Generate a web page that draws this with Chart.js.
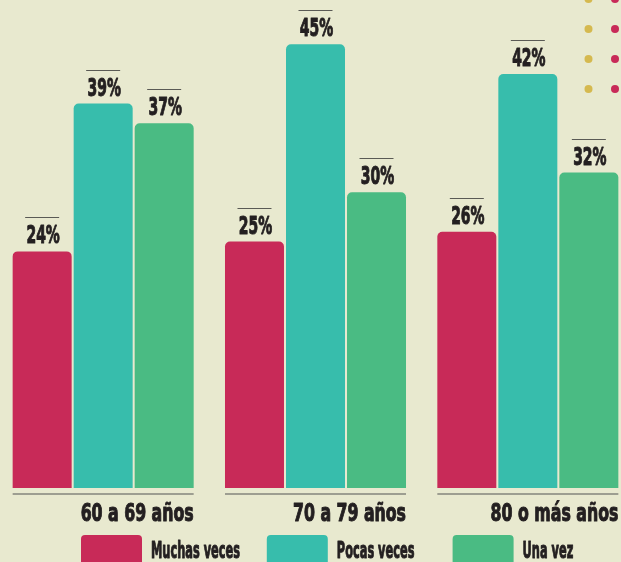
<!DOCTYPE html>
<html lang="es">
<head>
<meta charset="utf-8">
<title>Frecuencia por edad</title>
<script src="https://cdn.jsdelivr.net/npm/chart.js@4"></script>
<style>
  html, body { margin: 0; padding: 0; background: #e8e9cf; overflow: hidden; }
  #wrap { position: relative; width: 621px; height: 562px; overflow: hidden; }
  #box { position: absolute; left: -3px; top: 0; width: 637px; height: 562px; }
</style>
</head>
<body>
<div id="wrap"><div id="box"><canvas id="barChart"></canvas></div></div>
<script>
'use strict';

/* ─────────────────────────────────────────────
   DATA
   ───────────────────────────────────────────── */
const categories = ['60 a 69 años', '70 a 79 años', '80 o más años'];
const seriesLabels = ['Muchas veces', 'Pocas veces', 'Una vez'];
const muchasVeces = [24, 25, 26];
const pocasVeces = [39, 45, 42];
const unaVez = [37, 30, 32];

/* ─────────────────────────────────────────────
   THEME
   ───────────────────────────────────────────── */
const PALETTE = {
    red: '#c82a58',
    teal: '#37bdac',
    green: '#4abb83',
    dotYellow: '#d5b94f',
    text: '#231f20',
    rule: '#5a5a55',
    base: '#85857c',
};
const FONT = "'DejaVu Sans Condensed', 'Liberation Sans Narrow', sans-serif";
const SHIFT = 3; // canvas starts 3px left of the page

// draw text squeezed horizontally (the original uses a very condensed face)
function squeezedText(ctx, text, x, y, align, sx) {
    const w = ctx.measureText(text).width * sx;
    let left = x;
    if (align === 'center') left = x - w / 2;
    else if (align === 'right') left = x - w;
    ctx.save();
    ctx.translate(left, y);
    ctx.scale(sx, 1);
    ctx.textAlign = 'left';
    ctx.strokeStyle = ctx.fillStyle;
    ctx.lineWidth = 1;
    ctx.lineJoin = 'round';
    ctx.strokeText(text, 0, 0);
    ctx.fillText(text, 0, 0);
    ctx.restore();
}

/* ─────────────────────────────────────────────
   DECORATION PLUGIN – labels, rules, legend
   ───────────────────────────────────────────── */
const decorPlugin = {
    id: 'decor',
    afterDatasetsDraw(chart) {
        const ctx = chart.ctx;
        const metas = chart.data.datasets.map((_, i) => chart.getDatasetMeta(i));
        ctx.save();
        ctx.fillStyle = PALETTE.text;
        ctx.textBaseline = 'alphabetic';

        // value labels with a short rule above
        metas.forEach((meta, di) => {
            meta.data.forEach((bar, i) => {
                const v = chart.data.datasets[di].data[i];
                ctx.strokeStyle = PALETTE.rule;
                ctx.lineWidth = 1;
                ctx.beginPath();
                ctx.moveTo(bar.x - 17, Math.round(bar.y - 34) + 0.5);
                ctx.lineTo(bar.x + 17, Math.round(bar.y - 34) + 0.5);
                ctx.stroke();
                ctx.fillStyle = PALETTE.text;
                ctx.font = `bold 25px ${FONT}`;
                squeezedText(ctx, v + '%', bar.x + 1, bar.y - 8, 'center', 0.62);
            });
        });

        // group base lines + category names
        const first = metas[0].data, last = metas[metas.length - 1].data;
        categories.forEach((cat, i) => {
            const x0 = first[i].x - first[i].width / 2;
            const x1 = last[i].x + last[i].width / 2;
            ctx.strokeStyle = PALETTE.base;
            ctx.lineWidth = 1.5;
            ctx.beginPath();
            ctx.moveTo(x0, 494);
            ctx.lineTo(x1, 494);
            ctx.stroke();
            ctx.fillStyle = PALETTE.text;
            ctx.font = `bold 24px ${FONT}`;
            squeezedText(ctx, cat, x1, 521, 'right', 0.73);
        });

        // legend
        chart.data.datasets.forEach((ds, i) => {
            const bx = 81 + SHIFT + i * 185.8;
            ctx.fillStyle = ds.backgroundColor;
            ctx.beginPath();
            ctx.roundRect(bx, 535, 61, 34, 4);
            ctx.fill();
            ctx.fillStyle = PALETTE.text;
            ctx.font = `bold 23px ${FONT}`;
            squeezedText(ctx, ds.label, bx + 70, 558, 'left', 0.55);
        });

        // decorative dots top right
        [-1, 29, 59, 89].forEach(y => {
            ctx.fillStyle = PALETTE.dotYellow;
            ctx.beginPath();
            ctx.arc(588.5 + SHIFT, y, 4, 0, Math.PI * 2);
            ctx.fill();
            ctx.fillStyle = PALETTE.red;
            ctx.beginPath();
            ctx.arc(615 + SHIFT, y, 4, 0, Math.PI * 2);
            ctx.fill();
        });
        ctx.restore();
    },
};

/* ─────────────────────────────────────────────
   CHART
   ───────────────────────────────────────────── */
function makeDataset(label, data, color) {
    return {
        label,
        data,
        backgroundColor: color,
        borderWidth: 0,
        borderRadius: { topLeft: 5, topRight: 5, bottomLeft: 0, bottomRight: 0 },
        borderSkipped: false,
        categoryPercentage: 0.862,
        barPercentage: 0.967,
    };
}

const ctx = document.getElementById('barChart').getContext('2d');
new Chart(ctx, {
    type: 'bar',
    data: {
        labels: categories,
        datasets: [
            makeDataset(seriesLabels[0], muchasVeces, PALETTE.red),
            makeDataset(seriesLabels[1], pocasVeces, PALETTE.teal),
            makeDataset(seriesLabels[2], unaVez, PALETTE.green),
        ],
    },
    options: {
        responsive: true,
        maintainAspectRatio: false,
        animation: false,
        layout: { padding: { top: 0, bottom: 74, left: 0, right: 0 } },
        plugins: {
            legend: { display: false },
            tooltip: { enabled: false },
        },
        scales: {
            x: { display: false, offset: true, grid: { display: false } },
            y: { display: false, min: 0, max: 49.5, grid: { display: false } },
        },
    },
    plugins: [decorPlugin],
});
</script>
</body>
</html>
